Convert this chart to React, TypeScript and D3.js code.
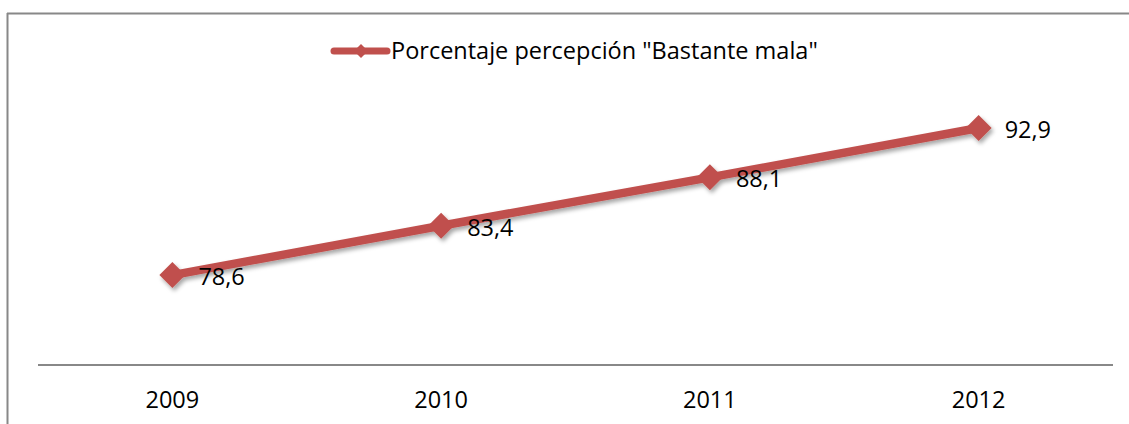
import React from "react";
import * as d3 from "d3";

const categories = ["2009", "2010", "2011", "2012"];
const values = [78.6, 83.4, 88.1, 92.9];
const valueLabels = ["78,6", "83,4", "88,1", "92,9"];
const seriesName = 'Porcentaje percepción "Bastante mala"';

const W = 1129;
const H = 424;
const COLOR = "#C0504D";
const FONT = "'Open Sans', 'Liberation Sans', sans-serif";
const FS = 23.5;

export default function App() {
  const x = d3.scaleBand<string>().domain(categories).range([38, 1113]);
  const y = d3.scaleLinear().domain([70, 100]).range([363.5, 55]);
  const cx = (c: string) => (x(c) as number) + x.bandwidth() / 2;
  const pts: [number, number][] = categories.map((c, i) => [cx(c), y(values[i])]);
  const line = d3.line();
  const diamond = (px: number, py: number, r: number) =>
    `M${px},${py - r}L${px + r},${py}L${px},${py + r}L${px - r},${py}Z`;

  return (
    <svg
      width={W}
      height={H}
      style={{ position: "absolute", left: 0, top: 0, background: "#fff" }}
    >
      <defs>
        <filter id="sh" x="-20%" y="-20%" width="140%" height="160%">
          <feDropShadow dx="2" dy="3" stdDeviation="2" floodColor="#000" floodOpacity="0.35" />
        </filter>
      </defs>
      <rect x={0} y={0} width={W} height={H} fill="#fff" />
      {/* chart border */}
      <line x1={7.5} y1={13} x2={7.5} y2={H} stroke="#888" strokeWidth={2} />
      <line x1={7} y1={13.5} x2={W} y2={13.5} stroke="#888" strokeWidth={2} />

      {/* legend */}
      <line x1={334} y1={51} x2={387} y2={51} stroke={COLOR} strokeWidth={7} strokeLinecap="round" />
      <path d={diamond(361, 51, 7)} fill={COLOR} />
      <text x={391} y={59} fontFamily={FONT} fontSize={FS} fill="#000">
        {seriesName}
      </text>

      {/* axis */}
      <line x1={38} y1={365} x2={1113} y2={365} stroke="#888" strokeWidth={2} />
      {categories.map((c) => (
        <text key={c} x={cx(c)} y={408} textAnchor="middle" fontFamily={FONT} fontSize={FS} fill="#000">
          {c}
        </text>
      ))}

      {/* series */}
      <g filter="url(#sh)">
        <path d={line(pts) || ""} fill="none" stroke={COLOR} strokeWidth={8.5} strokeLinejoin="round" />
        {pts.map(([px, py], i) => (
          <path key={i} d={diamond(px, py, 13)} fill={COLOR} />
        ))}
      </g>
      {pts.map(([px, py], i) => (
        <text key={i} x={px + 26} y={py + 10} fontFamily={FONT} fontSize={FS} fill="#000">
          {valueLabels[i]}
        </text>
      ))}
    </svg>
  );
}
